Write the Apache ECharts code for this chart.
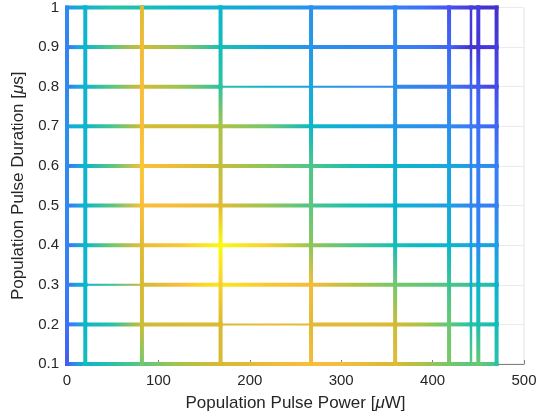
<!DOCTYPE html>
<html>
<head>
<meta charset="utf-8">
<style>
html, body { margin: 0; padding: 0; background: #fff; }
#main { width: 558px; height: 419px; }
</style>
<script src="https://cdn.jsdelivr.net/npm/echarts@6/dist/echarts.min.js"></script>
</head>
<body>
<div id="main"></div>
<script>
// grid nodes
var powerNodes = [0, 20, 82, 168, 267, 359, 418, 442, 450, 470];
var durationNodes = [0.1, 0.2, 0.3, 0.4, 0.5, 0.6, 0.7, 0.8, 0.9, 1.0];
var xTicks = [0, 100, 200, 300, 400, 500];
var yTicks = [0.1, 0.2, 0.3, 0.4, 0.5, 0.6, 0.7, 0.8, 0.9, 1];

// positions along each horizontal sweep where the colour was read
var rowSampleX = [0, 10, 20, 50, 82, 125, 168, 218, 267, 313, 359, 389, 418, 442, 450, 470];

// colour value (0..1 on the colormap) along each sweep, duration 0.1 .. 1.0
var row01 = [0.20, 0.30, 0.45, 0.55, 0.62, 0.72, 0.80, 0.84, 0.88, 0.85, 0.80, 0.72, 0.65, 0.62, 0.64, 0.58];
var row02 = [0.22, 0.30, 0.45, 0.55, 0.78, 0.80, 0.80, 0.84, 0.82, 0.82, 0.80, 0.72, 0.62, 0.55, 0.55, 0.50];
var row03 = [0.22, 0.35, 0.45, 0.58, 0.78, 0.88, 0.97, 0.90, 0.86, 0.74, 0.65, 0.63, 0.60, 0.58, 0.56, 0.50];
var row04 = [0.22, 0.32, 0.45, 0.65, 0.84, 0.90, 1.00, 0.92, 0.70, 0.60, 0.52, 0.47, 0.44, 0.40, 0.38, 0.35];
var row05 = [0.22, 0.32, 0.45, 0.62, 0.88, 0.86, 0.82, 0.70, 0.60, 0.52, 0.45, 0.38, 0.34, 0.28, 0.26, 0.25];
var row06 = [0.22, 0.32, 0.45, 0.62, 0.88, 0.84, 0.78, 0.68, 0.60, 0.52, 0.47, 0.42, 0.38, 0.33, 0.31, 0.28];
var row07 = [0.38, 0.43, 0.45, 0.60, 0.80, 0.78, 0.74, 0.65, 0.48, 0.38, 0.32, 0.30, 0.28, 0.24, 0.22, 0.20];
var row08 = [0.22, 0.35, 0.45, 0.62, 0.80, 0.70, 0.55, 0.45, 0.34, 0.30, 0.28, 0.26, 0.24, 0.18, 0.15, 0.12];
var row09 = [0.22, 0.35, 0.45, 0.62, 0.80, 0.68, 0.52, 0.38, 0.30, 0.28, 0.26, 0.24, 0.20, 0.06, 0.08, 0.10];
var row10 = [0.30, 0.38, 0.43, 0.55, 0.52, 0.46, 0.42, 0.35, 0.30, 0.28, 0.26, 0.22, 0.16, 0.10, 0.08, 0.06];
var rowValues = [row01, row02, row03, row04, row05, row06, row07, row08, row09, row10];

// colour value at each node of the fixed-power lines, duration 0.1 .. 1.0
var colAt0   = [0.18, 0.22, 0.24, 0.26, 0.28, 0.28, 0.30, 0.28, 0.26, 0.28];
var colAt20  = [0.50, 0.47, 0.45, 0.45, 0.44, 0.44, 0.44, 0.44, 0.44, 0.44];
var colAt82  = [0.65, 0.78, 0.80, 0.82, 0.88, 0.90, 0.87, 0.87, 0.85, 0.82];
var colAt168 = [0.80, 0.80, 0.92, 1.00, 0.82, 0.76, 0.72, 0.56, 0.50, 0.45];
var colAt267 = [0.86, 0.82, 0.86, 0.68, 0.62, 0.60, 0.46, 0.38, 0.32, 0.30];
var colAt359 = [0.82, 0.78, 0.65, 0.50, 0.45, 0.42, 0.32, 0.30, 0.28, 0.28];
var colAt418 = [0.66, 0.64, 0.58, 0.46, 0.38, 0.36, 0.30, 0.26, 0.20, 0.16];
var colAt442 = [0.62, 0.52, 0.42, 0.32, 0.28, 0.26, 0.24, 0.20, 0.08, 0.10];
var colAt450 = [0.64, 0.52, 0.45, 0.28, 0.25, 0.25, 0.22, 0.18, 0.08, 0.10];
var colAt470 = [0.55, 0.50, 0.42, 0.33, 0.26, 0.25, 0.20, 0.14, 0.10, 0.06];
var colValues = [colAt0, colAt20, colAt82, colAt168, colAt267, colAt359, colAt418, colAt442, colAt450, colAt470];

// parula-like colormap
var parulaStops = [
    [0.00, [62, 38, 168]],
    [0.08, [69, 53, 213]],
    [0.16, [70, 83, 240]],
    [0.24, [58, 123, 246]],
    [0.32, [36, 152, 232]],
    [0.40, [19, 173, 216]],
    [0.48, [10, 186, 196]],
    [0.56, [46, 195, 160]],
    [0.64, [107, 200, 113]],
    [0.72, [168, 196, 72]],
    [0.80, [216, 186, 51]],
    [0.88, [252, 190, 60]],
    [0.94, [245, 217, 42]],
    [1.00, [249, 251, 14]]
];

function parula(v) {
    v = Math.max(0, Math.min(1, v));
    for (var i = 1; i < parulaStops.length; i++) {
        if (v <= parulaStops[i][0]) {
            var a = parulaStops[i - 1], b = parulaStops[i];
            var t = (v - a[0]) / (b[0] - a[0]);
            var c = [0, 1, 2].map(function (k) { return Math.round(a[1][k] + (b[1][k] - a[1][k]) * t); });
            return 'rgb(' + c.join(',') + ')';
        }
    }
    return 'rgb(249,251,14)';
}

var lineW = 4;
// thinner pieces: [duration, fromPower, toPower]
var thinRowPieces = [[0.3, 20, 82], [0.2, 168, 267], [0.8, 168, 359]];
var colWidths = { 442: 2.5 };

function rowWidth(y, xa, xb) {
    for (var i = 0; i < thinRowPieces.length; i++) {
        var t = thinRowPieces[i];
        if (Math.abs(t[0] - y) < 1e-6 && xa >= t[1] && xb <= t[2]) return 2;
    }
    return lineW;
}

function renderRow(params, api) {
    var j = params.dataIndex;
    var y = durationNodes[j];
    var vals = rowValues[j];
    var children = [];
    for (var k = 0; k < powerNodes.length - 1; k++) {
        var xa = powerNodes[k], xb = powerNodes[k + 1];
        var p1 = api.coord([xa, y]), p2 = api.coord([xb, y]);
        var stops = [];
        for (var s = 0; s < rowSampleX.length; s++) {
            var sx = rowSampleX[s];
            if (sx >= xa && sx <= xb) {
                stops.push({ offset: (sx - xa) / (xb - xa), color: parula(vals[s]) });
            }
        }
        children.push({
            type: 'line',
            shape: { x1: p1[0], y1: p1[1], x2: p2[0], y2: p2[1] },
            style: {
                stroke: { type: 'linear', x: p1[0], y: 0, x2: p2[0], y2: 0, colorStops: stops, global: true },
                lineWidth: rowWidth(y, xa, xb),
                lineCap: 'square'
            }
        });
    }
    return { type: 'group', children: children };
}

function renderCol(params, api) {
    var i = params.dataIndex;
    var x = powerNodes[i];
    var vals = colValues[i];
    var children = [];
    for (var k = 0; k < durationNodes.length - 1; k++) {
        var p1 = api.coord([x, durationNodes[k]]), p2 = api.coord([x, durationNodes[k + 1]]);
        children.push({
            type: 'line',
            shape: { x1: p1[0], y1: p1[1], x2: p2[0], y2: p2[1] },
            style: {
                stroke: {
                    type: 'linear', x: 0, y: p1[1], x2: 0, y2: p2[1], global: true,
                    colorStops: [{ offset: 0, color: parula(vals[k]) }, { offset: 1, color: parula(vals[k + 1]) }]
                },
                lineWidth: colWidths[x] || lineW,
                lineCap: 'square'
            }
        });
    }
    return { type: 'group', children: children };
}

var fontFam = "'Liberation Sans', Arial, Helvetica, sans-serif";
var dom = document.getElementById('main');
var myChart = echarts.init(dom, null, { renderer: 'canvas' });

var option = {
    animation: false,
    grid: {
        left: 67, right: 34, top: 7, bottom: 55,
        show: true, borderColor: '#e3e3e3', borderWidth: 1
    },
    xAxis: {
        type: 'value',
        min: xTicks[0], max: xTicks[xTicks.length - 1], interval: 100,
        name: '{a|Population Pulse Power [}{i|μ}{a|W]}',
        nameLocation: 'middle', nameGap: 31,
        nameTextStyle: {
            rich: {
                a: { fontSize: 17, color: '#262626', fontFamily: fontFam },
                i: { fontSize: 17, color: '#262626', fontFamily: fontFam, fontStyle: 'italic' }
            }
        },
        axisLine: { show: true, lineStyle: { color: '#808080', width: 1 } },
        axisTick: { show: true, inside: true, length: 4, lineStyle: { color: '#808080' } },
        axisLabel: { color: '#262626', fontSize: 15, fontFamily: fontFam, margin: 9 },
        splitLine: { show: false }
    },
    yAxis: {
        type: 'value',
        min: yTicks[0], max: yTicks[yTicks.length - 1], interval: 0.1,
        name: '{a|Population Pulse Duration [}{i|μ}{a|s]}',
        nameLocation: 'middle', nameGap: 35,
        nameTextStyle: {
            rich: {
                a: { fontSize: 17, color: '#262626', fontFamily: fontFam },
                i: { fontSize: 17, color: '#262626', fontFamily: fontFam, fontStyle: 'italic' }
            }
        },
        axisLine: { show: true, lineStyle: { color: '#808080', width: 1 } },
        axisTick: { show: true, inside: true, length: 4, lineStyle: { color: '#808080' } },
        axisLabel: {
            color: '#262626', fontSize: 15, fontFamily: fontFam, margin: 8,
            formatter: function (v) { return String(Math.round(v * 10) / 10); }
        },
        splitLine: { show: true, lineStyle: { color: '#ebebeb', width: 1 } }
    },
    series: [
        {
            name: 'sweeps',
            type: 'custom',
            clip: false,
            renderItem: renderRow,
            data: durationNodes.map(function (d) { return [0, d]; }),
            z: 2
        },
        {
            name: 'steps',
            type: 'custom',
            clip: false,
            renderItem: renderCol,
            data: powerNodes.map(function (p) { return [p, durationNodes[0]]; }),
            z: 3
        }
    ]
};

myChart.setOption(option);
</script>
</body>
</html>
